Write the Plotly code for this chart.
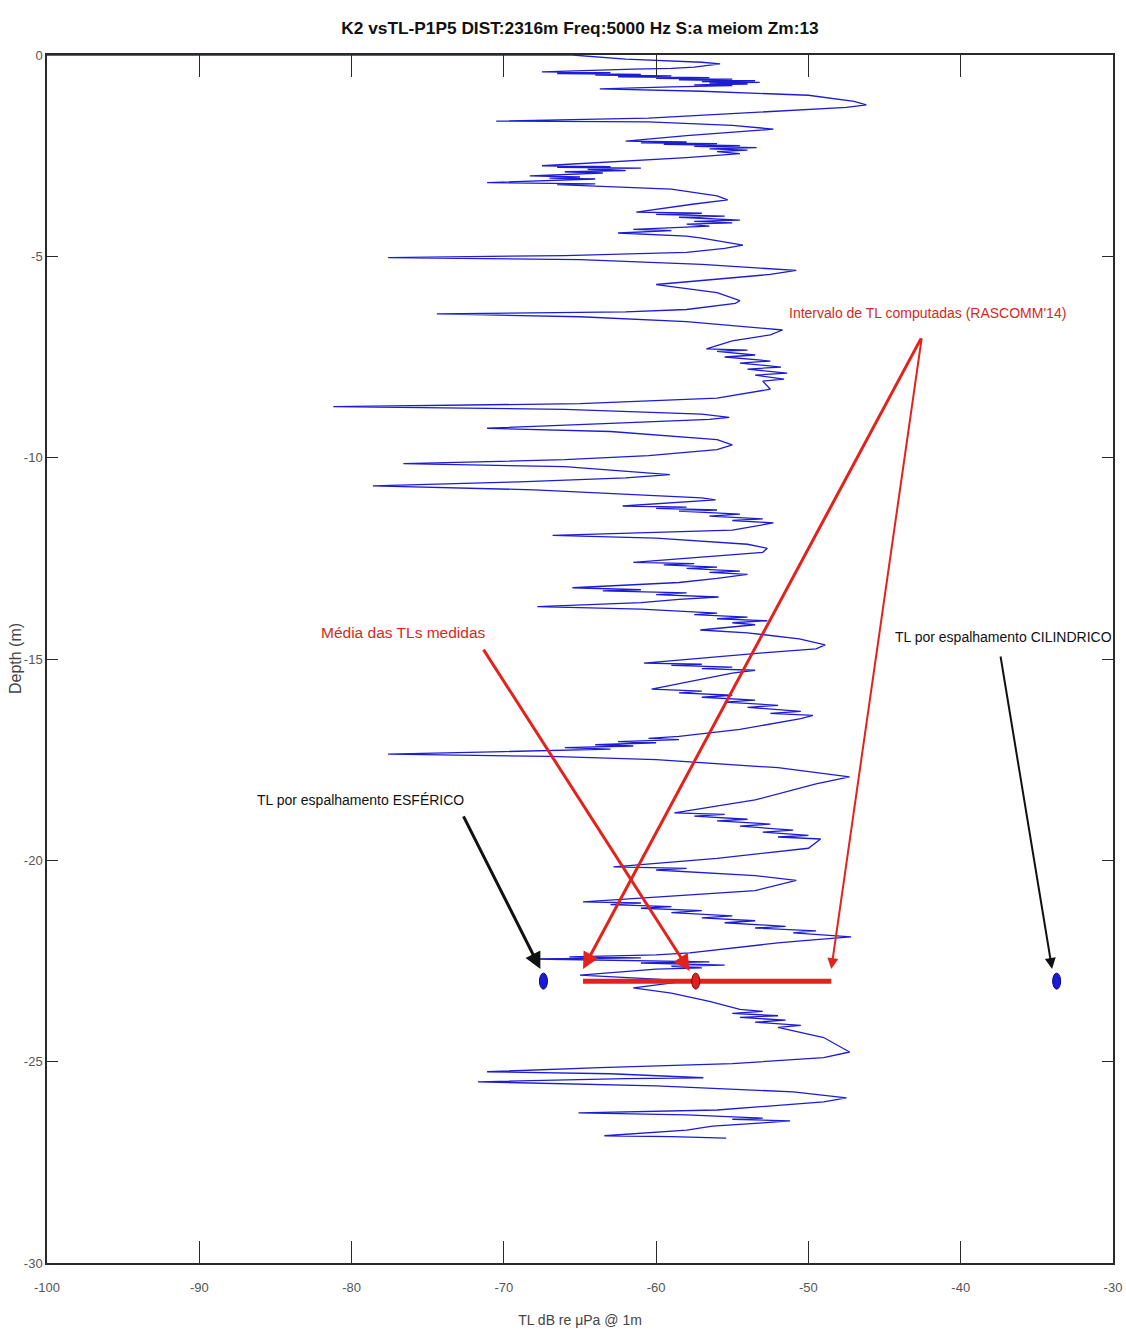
import plotly.graph_objects as go

# Transmission-loss profile versus depth (dB re 1 uPa @ 1 m, depth in m)
tl_db = [
    -100, -65.5, -62, -57, -55.8, -57.5, -59, -61.5, -67.5, -63,
    -66.5, -61, -64, -59, -62.5, -56.5, -60, -55, -58.5, -53.5,
    -57, -53.2, -56.5, -54, -57.5, -55, -59, -63.7, -57, -50,
    -47, -46.2, -47.5, -52, -60.5, -70.5, -60.5, -55, -52.3, -53.6,
    -58, -62, -58, -61, -56, -59.5, -54.5, -57.5, -53.4, -56.5,
    -54, -56, -54.5, -58, -62.5, -67.5, -63, -66.5, -61, -64.5,
    -62, -66, -63.5, -68.3, -65, -67, -64, -71.1, -64, -66.5,
    -59, -56, -55.3, -57.5, -61.3, -57, -60, -55.5, -58.5, -54.5,
    -57.5, -55, -58, -56.5, -61.5, -59, -62.5, -58, -57, -54.3,
    -55.5, -58, -66, -77.6, -65, -57, -50.8, -52.5, -57, -60,
    -56, -54.5, -54.8, -56.5, -58, -62, -74.4, -65, -58, -51.7,
    -52.5, -55, -56.7, -54, -56, -53.5, -55.5, -52.5, -54.5, -51.8,
    -54, -51.4, -53.5, -51.6, -53, -52.5, -56, -65, -81.2, -66,
    -57, -55.2, -56.5, -63, -71.1, -63, -56, -55, -56, -60.5,
    -66, -76.6, -66, -59.1, -62, -69, -78.6, -68, -59, -57,
    -56.1, -58, -62.2, -58, -60, -56, -58.5, -54.5, -56.5, -53,
    -55, -52.3, -55, -66.8, -60, -54, -52.7, -53, -58, -61.5,
    -57.5, -59.5, -56, -58, -54.5, -56.5, -54, -56, -58.5, -65.5,
    -61, -63.5, -58, -60, -55.9, -58.5, -61, -67.8, -61, -56,
    -57.5, -54, -56, -52.7, -55, -53.5, -57.1, -54, -50.6, -48.9,
    -49.5, -53, -60.8, -57, -59, -55, -57, -53.5, -55, -57,
    -60.3, -57, -58.5, -55, -57, -53.5, -55.5, -52, -54, -50.5,
    -52.5, -49.7, -50.5, -54.5, -58.5, -60.5, -58.5, -62.5, -60, -64,
    -61.5, -66, -63, -70, -77.6, -67, -60, -52, -47.3, -49.5,
    -53.5, -58.8, -55.5, -57.5, -54, -56, -52.5, -54.5, -51, -53,
    -50, -52, -49.2, -50, -56, -62.8, -58, -60, -53.5, -50.8,
    -53.5, -64.8, -61, -63, -59, -61, -57, -59, -55, -57,
    -53.5, -55.5, -51.5, -53.5, -49.5, -51, -47.2, -49.5, -52, -57.8,
    -60, -65.7, -61, -68.1, -62, -56.5, -61, -55.5, -59, -57,
    -60, -63, -65, -60, -58, -61.5, -59, -56.5, -54.5, -53,
    -55, -52, -54.5, -51.5, -53.5, -50.5, -52, -49, -47.3, -49,
    -55, -63.7, -71.1, -63, -56.9, -62, -71.7, -60, -51, -47.5,
    -49, -56, -65.1, -58, -53, -55, -51.2, -53, -56.3, -58,
    -63.4, -59, -55.4,
]
depth_m = [
    0.0, 0.0, -0.1, -0.18, -0.22, -0.3, -0.33, -0.35, -0.42, -0.44,
    -0.46, -0.48, -0.5, -0.52, -0.54, -0.56, -0.58, -0.6, -0.62, -0.64,
    -0.66, -0.68, -0.7, -0.72, -0.74, -0.76, -0.79, -0.84, -0.9, -1.0,
    -1.15, -1.24, -1.3, -1.4, -1.57, -1.64, -1.66, -1.75, -1.84, -1.88,
    -2.0, -2.14, -2.16, -2.18, -2.2, -2.22, -2.25, -2.27, -2.3, -2.33,
    -2.36, -2.4, -2.45, -2.55, -2.65, -2.75, -2.77, -2.79, -2.81, -2.84,
    -2.87, -2.9, -2.93, -3.0, -3.03, -3.06, -3.08, -3.17, -3.2, -3.22,
    -3.33, -3.5, -3.6, -3.7, -3.9, -3.93, -3.96, -4.0, -4.03, -4.1,
    -4.13, -4.17, -4.2, -4.25, -4.33, -4.36, -4.42, -4.5, -4.55, -4.72,
    -4.8, -4.9, -4.98, -5.03, -5.08, -5.2, -5.35, -5.45, -5.6, -5.7,
    -5.9, -6.1, -6.17, -6.25, -6.32, -6.38, -6.43, -6.5, -6.62, -6.83,
    -6.95, -7.1, -7.3, -7.33, -7.36, -7.45, -7.5, -7.6, -7.65, -7.75,
    -7.8, -7.9, -7.95, -8.05, -8.1, -8.3, -8.52, -8.66, -8.73, -8.8,
    -8.92, -9.0, -9.05, -9.15, -9.27, -9.35, -9.55, -9.68, -9.8, -9.95,
    -10.05, -10.15, -10.22, -10.42, -10.5, -10.6, -10.7, -10.8, -10.95, -11.0,
    -11.05, -11.1, -11.2, -11.23, -11.26, -11.3, -11.33, -11.4, -11.45, -11.52,
    -11.56, -11.62, -11.8, -11.93, -12.0, -12.15, -12.25, -12.35, -12.5, -12.6,
    -12.63, -12.66, -12.72, -12.75, -12.82, -12.85, -12.9, -13.0, -13.1, -13.23,
    -13.28, -13.31, -13.36, -13.4, -13.46, -13.52, -13.6, -13.7, -13.76, -13.86,
    -13.9, -13.96, -14.0, -14.05, -14.1, -14.15, -14.28, -14.35, -14.5, -14.65,
    -14.75, -14.85, -15.1, -15.13, -15.16, -15.2, -15.24, -15.28, -15.35, -15.5,
    -15.75, -15.8, -15.84, -15.9, -15.95, -16.02, -16.07, -16.15, -16.2, -16.3,
    -16.35, -16.4, -16.48, -16.75, -16.92, -16.97, -17.0, -17.05, -17.08, -17.13,
    -17.16, -17.2, -17.24, -17.3, -17.36, -17.42, -17.5, -17.7, -17.93, -18.1,
    -18.5, -18.82, -18.86, -18.9, -18.98, -19.02, -19.1, -19.15, -19.25, -19.3,
    -19.38, -19.42, -19.47, -19.7, -19.95, -20.16, -20.2, -20.24, -20.38, -20.5,
    -20.75, -21.03, -21.06, -21.1, -21.15, -21.19, -21.25, -21.3, -21.38, -21.43,
    -21.5, -21.55, -21.64, -21.68, -21.75, -21.8, -21.9, -21.97, -22.05, -22.3,
    -22.35, -22.4, -22.42, -22.45, -22.48, -22.52, -22.55, -22.6, -22.63, -22.67,
    -22.7, -22.78, -22.85, -22.95, -23.0, -23.17, -23.3, -23.5, -23.7, -23.75,
    -23.8, -23.86, -23.9, -23.97, -24.02, -24.1, -24.15, -24.4, -24.76, -24.9,
    -25.05, -25.15, -25.25, -25.3, -25.4, -25.42, -25.5, -25.6, -25.75, -25.9,
    -26.0, -26.2, -26.27, -26.32, -26.4, -26.43, -26.47, -26.52, -26.6, -26.7,
    -26.84, -26.86, -26.9,
]
assert len(tl_db) == len(depth_m)

# Reference values at the receiver depth
receiver_depth = -23.0
spherical_tl = -67.4
cylindrical_tl = -33.7
measured_mean_tl = -57.4
rascomm_range = [-64.8, -48.5]

x_ticks = [-100, -90, -80, -70, -60, -50, -40, -30]
y_ticks = [-30, -25, -20, -15, -10, -5, 0]

title_text = "K2 vsTL-P1P5 DIST:2316m Freq:5000 Hz S:a meiom Zm:13"
x_title = "TL dB re μPa @ 1m"
y_title = "Depth (m)"
label_rascomm = "Intervalo de TL computadas (RASCOMM'14)"
label_mean = "Média das TLs medidas"
label_cyl = "TL por espalhamento CILINDRICO"
label_sph = "TL por espalhamento ESFÉRICO"

SANS = "Liberation Sans, Arial, sans-serif"
RED = "#e3221c"
LABEL_RED = "#d42a22"
BLUE = "#1c1cd2"

fig = go.Figure()

fig.add_trace(go.Scatter(
    x=tl_db, y=depth_m, mode="lines",
    line=dict(color=BLUE, width=1.3),
    hoverinfo="skip", showlegend=False,
))

# Computed TL interval at the receiver depth
fig.add_trace(go.Scatter(
    x=rascomm_range, y=[receiver_depth] * len(rascomm_range), mode="lines",
    line=dict(color=RED, width=5),
    hoverinfo="skip", showlegend=False,
))


# Point markers drawn as small upright ellipses
def ellipse(xv, yv, fill, edge):
    return dict(
        type="circle", xref="x", yref="y",
        xsizemode="pixel", ysizemode="pixel",
        xanchor=xv, yanchor=yv,
        x0=-4, x1=4, y0=-8, y1=8,
        fillcolor=fill, line=dict(color=edge, width=1),
    )


shapes = [
    ellipse(spherical_tl, receiver_depth, "#1a1ad8", "#0a0a80"),
    ellipse(cylindrical_tl, receiver_depth, "#1a1ad8", "#0a0a80"),
    ellipse(measured_mean_tl, receiver_depth, "#e32020", "#7a0a0a"),
]

annotations = []


def arrow(x_head, y_head, x_tail, y_tail, color, width):
    annotations.append(dict(
        x=x_head, y=y_head, ax=x_tail, ay=y_tail,
        xref="x", yref="y", axref="x", ayref="y",
        text="", showarrow=True, arrowhead=2, arrowsize=1.1,
        arrowwidth=width, arrowcolor=color, standoff=0, startstandoff=0,
    ))


def label(xv, yv, text, color, size):
    annotations.append(dict(
        x=xv, y=yv, xref="x", yref="y", text=text, showarrow=False,
        font=dict(family=SANS, size=size, color=color),
        xanchor="center", yanchor="middle",
    ))


head_depth = receiver_depth + 0.3
arrow(rascomm_range[0], head_depth, -42.55, -7.0, RED, 3)
arrow(rascomm_range[1], head_depth, -42.55, -7.0, RED, 2)
arrow(measured_mean_tl - 0.4, head_depth - 0.05, -71.4, -14.73, RED, 3)
arrow(spherical_tl - 0.2, head_depth, -72.7, -18.87, "#111111", 3)
arrow(cylindrical_tl - 0.3, head_depth, -37.4, -14.9, "#111111", 2)

label(-42.2, -6.4, label_rascomm, LABEL_RED, 14)
label(-76.6, -14.35, label_mean, LABEL_RED, 15.5)
label(-37.2, -14.45, label_cyl, "#111111", 14)
label(-79.4, -18.5, label_sph, "#111111", 14)

# Vertical axis title, placed just left of the tick labels
annotations.append(dict(
    x=-0.030, y=0.5, xref="paper", yref="paper",
    text=y_title, textangle=-90, showarrow=False,
    xanchor="center", yanchor="middle",
    font=dict(family=SANS, size=16, color="#444444"),
))

axis_common = dict(
    showline=True, mirror="ticks", linecolor="#2a2a2a", linewidth=1.5,
    ticks="inside", tickcolor="#2a2a2a", tickwidth=1,
    showgrid=False, zeroline=False, automargin=False,
    tickfont=dict(family=SANS, size=13, color="#555555"),
)

fig.update_layout(
    width=1126, height=1335,
    margin=dict(l=47, r=13, t=55, b=72),
    paper_bgcolor="white", plot_bgcolor="white",
    title=dict(
        text="<b>" + title_text + "</b>",
        x=0.5, xref="paper", xanchor="center",
        y=1 - 28 / 1335, yref="container", yanchor="middle",
        font=dict(family=SANS, size=17.3, color="#111111"),
    ),
    xaxis=dict(
        range=[-100, -30], tickvals=x_ticks,
        ticktext=[str(v) for v in x_ticks], ticklen=22,
        ticklabelstandoff=12,
        title=dict(text=x_title, standoff=21,
                   font=dict(family=SANS, size=14, color="#444444")),
        **axis_common,
    ),
    yaxis=dict(
        range=[-30, 0], tickvals=y_ticks,
        ticktext=[str(v) for v in y_ticks], ticklen=11,
        **axis_common,
    ),
    shapes=shapes,
    annotations=annotations,
    showlegend=False,
)

fig.write_html("out.html")
